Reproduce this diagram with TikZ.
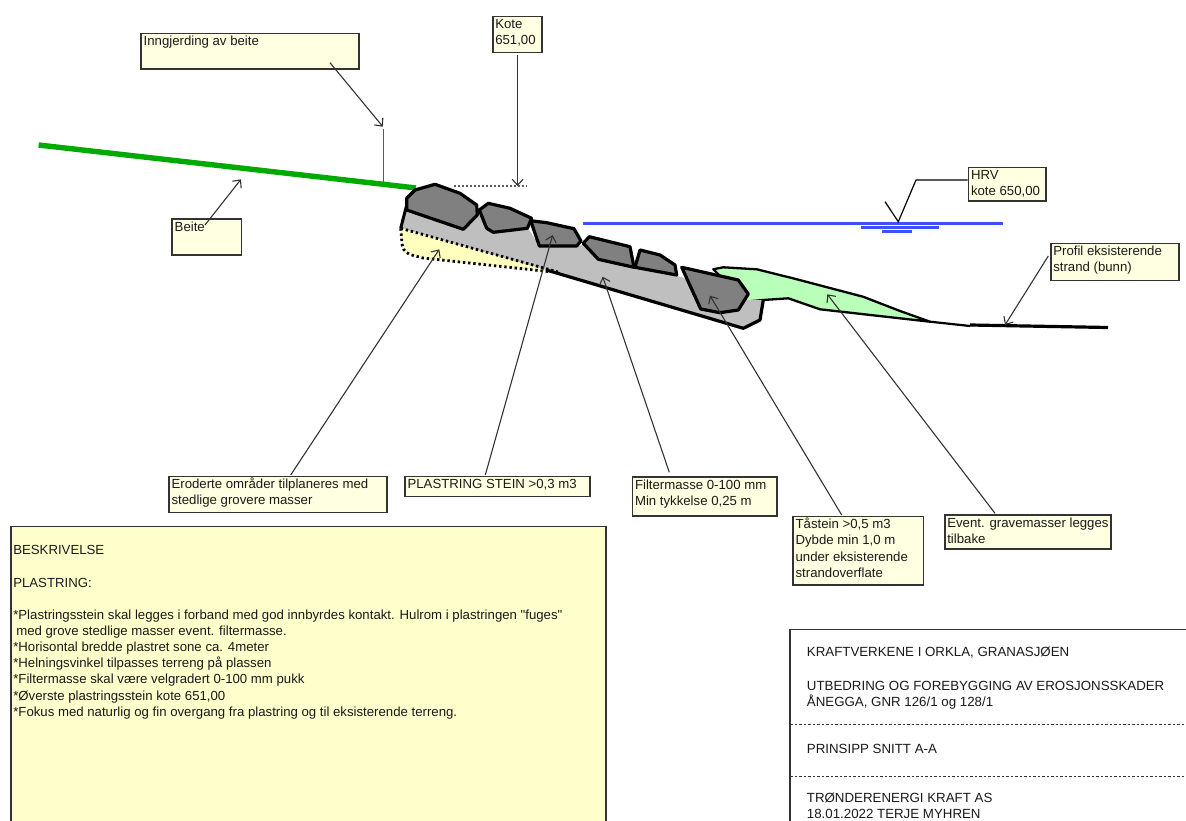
\documentclass[tikz,border=0pt]{standalone}
\usepackage{fontspec}
\setmainfont{Liberation Sans}[Ligatures=TeXOff]
\usetikzlibrary{arrows.meta}
\definecolor{lblfill}{HTML}{FFFFE1}
\definecolor{descfill}{HTML}{FFFFCC}
\definecolor{lineink}{HTML}{333333}
\definecolor{stonegray}{HTML}{808080}
\definecolor{gravelgray}{HTML}{BFBFBF}
\definecolor{bankgreen}{HTML}{B9FFB9}
\definecolor{erodeyellow}{HTML}{FFFFBE}
\definecolor{waterblue}{HTML}{3C50FF}
\definecolor{pasture}{HTML}{00AA00}
\definecolor{inktext}{HTML}{1A1A1A}
\tikzset{
  lbl/.style={draw=lineink,line width=1.6pt,fill=lblfill,anchor=north west,inner sep=0pt,text=inktext},
  desc/.style={lbl,fill=descfill},
  stone/.style={draw=black,fill=stonegray,line width=3.2pt,line join=round},
  leader/.style={draw=lineink,line width=1.1pt,-{Straight Barb[length=6pt,width=11pt,line width=1.1pt]}},
  plainline/.style={draw=lineink!80,line width=1.1pt},
  water/.style={draw=waterblue,line width=2.6pt},
  titletext/.style={anchor=west,inner sep=0pt,text=inktext,font=\fontsize{13.3}{15}\selectfont},
  sep/.style={draw=lineink,line width=1pt,dash pattern=on 2.5pt off 2pt},
}
\newcommand{\lblbox}[7][lbl]{%
  \node[#1] (#2) at (#3,#4) {\parbox[t][#6pt][t]{#5pt}{\fontsize{13.2}{16.15}\selectfont\raggedright\leftskip=2.5pt\rule{0pt}{12.3pt}#7}};}
\begin{document}
\begin{tikzpicture}[x=1pt,y=-1pt]
\useasboundingbox (0,0) rectangle (1186,821);
\clip (0,0) rectangle (1186,821);
\fill[white] (0,0) rectangle (1186,821);

% water
\draw[water] (583,223.3) -- (1003,223.3);
\draw[water] (861,227.7) -- (939,227.7);
\draw[water] (881.7,231.7) -- (911.7,231.7);

% pasture and fence
\coordinate (pastA) at (38.6,145);
\coordinate (pastB) at (416,188);
\coordinate (fenceB) at (383.6,182.5);
\coordinate (fenceT) at (383.6,129);
\draw[plainline] (fenceT) -- (fenceB);
\draw[pasture,line width=5.4pt] (pastA) -- (pastB);

% level line
\coordinate (levA) at (454,186);
\coordinate (levB) at (527,186);
\draw[lineink!80,line width=1.2pt,dash pattern=on 2pt off 2pt] (levA) -- (levB);

% green backfill
\draw[fill=bankgreen,draw=black,line width=2.3pt,line join=round]
  (713.3,269.3) -- (723.3,267.3) -- (756.7,269.3) -- (793,278.3) -- (863,296.7) -- (900,311) -- (930,321.7)
  -- (820,309.3) -- (788.3,298.3) -- (763.3,300) -- (745,301.7) -- cycle;
% shore
\draw[black,line width=2.2pt] (930,321.7) -- (970,326);
\coordinate (shoreA) at (970,325);
\coordinate (shoreB) at (1108,327.5);
\draw[black,line width=3.2pt] (shoreA) -- (shoreB);

% filter mass
\fill[gravelgray] (406.7,205) -- (400.7,228.3) -- (553,272) -- (743.3,328.3) -- (760,320) -- (763.3,300)
  -- (740,300) -- (681,277) -- (631,267) -- (600,258) -- (583,245) -- (576,246) -- (539,246) -- (528,228) -- (493,232) -- (480,215) -- (463,229) -- cycle;
% eroded zone
\fill[erodeyellow] (400.7,228.3) -- (401.7,240) -- (405,253.3) -- (423,258) -- (553,272) -- cycle;
\draw[black,line width=3pt,line join=round] (406.7,205) -- (400.7,228.3);
\draw[black,line width=3.2pt,line join=round] (548,270.5) -- (743.3,328.3) -- (760,320) -- (763.3,300);
\draw[black,line width=2.8pt,dash pattern=on 2.4pt off 2.8pt] (400.7,228.3) -- (558,272);
\draw[black,line width=2.8pt,dash pattern=on 2.4pt off 2.8pt] (400.7,228.3) -- (401.7,240) .. controls (402,248) and (404,252) .. (410,254.5) -- (423,258) -- (548,271.5);

% stones
\draw[stone] (406.7,198.3) -- (415,190) -- (435,184.3) -- (460,193.3) -- (476.7,205) -- (477.3,215) -- (463.3,229.3) -- (406.7,210) -- cycle;
\draw[stone] (479.3,210) -- (488.3,203.3) -- (510,208.3) -- (531.7,218.3) -- (527.3,228.3) -- (493.3,232.3) -- (486.7,228.3) -- cycle;
\draw[stone] (530.7,220.7) -- (546.7,222.7) -- (574,228.7) -- (581,241) -- (576.7,246) -- (539.3,246) -- cycle;
\draw[stone] (583.3,243.3) -- (589.3,236.7) -- (630,246.7) -- (634,267.3) -- (598.3,259.3) -- cycle;
\draw[stone] (635,267.3) -- (640,250) -- (660,255) -- (675,265) -- (676.7,275) -- cycle;
\draw[stone] (681.7,267.3) -- (738.3,280) -- (748.3,294) -- (738.3,310) -- (720,312.7) -- (700.7,309) -- cycle;

% label boxes
\lblbox{inngj}{140.4}{32.7}{217.5}{35.6}{Inngjerding av beite}
\lblbox{kote}{492}{15.7}{49}{36}{Kote\\651,00}
\lblbox{beite}{171.4}{218.3}{69.3}{35.7}{Beite}
\lblbox{hrv}{967.7}{166.7}{77.6}{33.3}{HRV\\kote 650,00}
\lblbox{profil}{1050}{242.7}{128}{37}{Profil eksisterende\\strand (bunn)}
\lblbox{erod}{168.3}{475.7}{217.7}{36}{Eroderte områder tilplaneres med\\stedlige grovere masser}
\lblbox{plast}{404.3}{475.7}{185}{20}{PLASTRING STEIN >0,3 m3}
\lblbox{filt}{631.7}{476}{144.3}{39}{Filtermasse 0-100 mm\\Min tykkelse 0,25 m}
\lblbox{taa}{792.3}{515.7}{130.4}{68.3}{Tåstein >0,5 m3\\Dybde min 1,0 m\\under eksisterende\\strandoverflate}
\lblbox{event}{944}{514.3}{166}{34}{Event. gravemasser legges\\tilbake}
\lblbox[desc]{beskr}{10}{525.5}{595}{310}{\mbox{}\\BESKRIVELSE\\\mbox{}\\PLASTRING:\\\mbox{}\\{}*Plastringsstein skal legges i forband med god innbyrdes kontakt. Hulrom i plastringen "fuges"\\\hspace*{3pt}med grove stedlige masser event. filtermasse.\\{}*Horisontal bredde plastret sone ca. 4meter\\{}*Helningsvinkel tilpasses terreng på plassen\\{}*Filtermasse skal være velgradert 0-100 mm pukk\\{}*Øverste plastringsstein kote 651,00\\{}*Fokus med naturlig og fin overgang fra plastring og til eksisterende terreng.}

% leaders
\coordinate (a1s) at (330,62.7);
\coordinate (a1e) at (382.9,126.7);
\draw[leader] (a1s) -- (a1e);
\coordinate (a2s) at (205,225);
\coordinate (a2e) at (241,179.3);
\draw[leader] (a2s) -- (a2e);
\coordinate (a3s) at (517.6,55);
\coordinate (a3e) at (517.6,186);
\draw[leader] (a3s) -- (a3e);
\coordinate (a4s) at (290.7,475);
\coordinate (a4e) at (439.3,249.3);
\draw[leader] (a4s) -- (a4e);
\coordinate (a5s) at (485.3,475);
\coordinate (a5e) at (552.7,235);
\draw[leader] (a5s) -- (a5e);
\coordinate (a6s) at (669.3,472.3);
\coordinate (a6e) at (602.7,276.7);
\draw[leader] (a6s) -- (a6e);
\coordinate (a7s) at (841.7,515);
\coordinate (a7e) at (710,295.7);
\draw[leader] (a7s) -- (a7e);
\coordinate (a8s) at (995,513.3);
\coordinate (a8e) at (827.3,294.3);
\draw[leader] (a8s) -- (a8e);
\coordinate (a9s) at (1048.3,256);
\coordinate (a9e) at (1005,325);
\draw[leader] (a9s) -- (a9e);
% water level mark
\coordinate (hrvA) at (885,201.7);
\coordinate (hrvB) at (898.3,221.7);
\coordinate (hrvC) at (916,180);
\draw[draw=black,line width=1.2pt,line join=miter] (hrvA) -- (hrvB) -- (hrvC) -- (hrv.west |- hrvC);

% title block
\coordinate (tbTR) at (1192,629.3);
\coordinate (tbTL) at (790,629.3);
\coordinate (tbBL) at (790,826);
\draw[lineink,line width=1.5pt] (tbTR) -- (tbTL) -- (tbBL);
\coordinate (s1L) at (790,724.3);
\coordinate (s1R) at (1186,724.3);
\coordinate (s2L) at (790,776.7);
\coordinate (s2R) at (1186,776.7);
\draw[sep] (s1L) -- (s1R);
\draw[sep] (s2L) -- (s2R);
\node[titletext] (t1) at (806.7,652.3) {KRAFTVERKENE I ORKLA, GRANASJØEN};
\node[titletext] (t2) at (806.7,685.7) {UTBEDRING OG FOREBYGGING AV EROSJONSSKADER};
\node[titletext] (t3) at (806.7,702.3) {ÅNEGGA, GNR 126/1 og 128/1};
\node[titletext] (t4) at (806.7,749.3) {PRINSIPP SNITT A-A};
\node[titletext] (t5) at (806.7,797.7) {TRØNDERENERGI KRAFT AS};
\node[titletext] (t6) at (806.7,814) {18.01.2022 TERJE MYHREN};
\end{tikzpicture}
\end{document}
